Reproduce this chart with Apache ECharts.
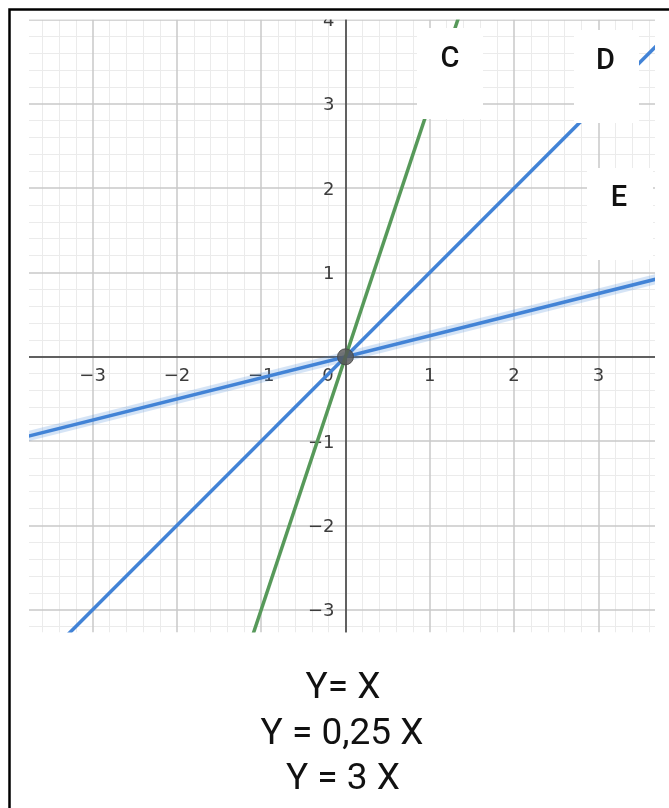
<!DOCTYPE html>
<html>
<head>
<meta charset="utf-8">
<script src="https://cdn.jsdelivr.net/npm/echarts@6/dist/echarts.min.js"></script>
<style>
html, body { margin: 0; padding: 0; background: #fff; }
#chart { width: 669px; height: 808px; }
</style>
</head>
<body>
<div id="chart"></div>
<script>
// Visible window of the coordinate plane
const xRange = [-3.755, 3.672];
const yRange = [-3.27, 4.0];

// Labelled integer ticks on each axis
const xTickLabels = [-3, -2, -1, 0, 1, 2, 3];
const yTickLabels = [-3, -2, -1, 1, 2, 3, 4];
const majorX = [-3, -2, -1, 0, 1, 2, 3];
const majorY = [-3, -2, -1, 0, 1, 2, 3, 4];
const minorStep = 0.2;

// Lines through the origin, each given by two points outside the window
const lineC = [[-1.5, -4.5], [1.5, 4.5]];        // Y = 3 X
const lineD = [[-4.5, -4.5], [4.5, 4.5]];        // Y = X
const lineE = [[-4.5, -1.125], [4.5, 1.125]];    // Y = 0,25 X
const originPoint = [[0, 0]];

const lineNames = ['C', 'D', 'E'];
const equations = ['Y= X', 'Y = 0,25 X', 'Y = 3 X'];

const BLUE = '#4283d6';
const GREEN = '#57995a';

// Plotting window in the page
const W = 669, H = 808;
const gridBox = { left: 29, right: 14, top: 19.5, bottom: 175.5 };
const plotW = W - gridBox.left - gridBox.right;
const plotH = H - gridBox.top - gridBox.bottom;
// distance from the window edges to the axes through the origin
const xAxisShift = (0 - yRange[0]) / (yRange[1] - yRange[0]) * plotH;
const yAxisShift = (0 - xRange[0]) / (xRange[1] - xRange[0]) * plotW;

// Grid line segments, spanning the whole window
function verticals(values) {
  return values.map(v => ({ coords: [[v, yRange[0]], [v, yRange[1]]] }));
}
function horizontals(values) {
  return values.map(v => ({ coords: [[xRange[0], v], [xRange[1], v]] }));
}
function minorValues(range) {
  const out = [];
  const k0 = Math.ceil(range[0] / minorStep - 1e-9);
  const k1 = Math.floor(range[1] / minorStep + 1e-9);
  for (let k = k0; k <= k1; k++) {
    if (k % 5 !== 0) out.push(+(k * minorStep).toFixed(4));
  }
  return out;
}
const minorGrid = verticals(minorValues(xRange)).concat(horizontals(minorValues(yRange)));
const majorGrid = verticals(majorX).concat(horizontals(majorY));

const minus = v => String(v).replace('-', '\u2212');

const chart = echarts.init(document.getElementById('chart'), null, { renderer: 'canvas' });

const tickText = { fontFamily: 'DejaVu Sans', fontSize: 18, color: '#3c3c3c' };

const plotRight = W - gridBox.right;
const plotBottom = H - gridBox.bottom;
const marginFill = { fill: '#fff' };

const option = {
  animation: false,
  backgroundColor: '#fff',
  grid: Object.assign({ containLabel: false }, gridBox),
  xAxis: {
    type: 'value',
    min: xRange[0],
    max: xRange[1],
    position: 'bottom',
    offset: -xAxisShift,
    z: 3,
    axisLine: { onZero: false, lineStyle: { color: '#3a3a3a', width: 1.5 } },
    axisTick: { show: false },
    splitLine: { show: false },
    axisLabel: Object.assign({
      customValues: xTickLabels,
      margin: 11,
      formatter: v => (v === 0 ? '{zero|0}' : '{n|' + minus(v) + '}'),
      rich: {
        n: tickText,
        zero: Object.assign({ padding: [0, 35, 0, 0] }, tickText)
      }
    }, tickText)
  },
  yAxis: {
    type: 'value',
    min: yRange[0],
    max: yRange[1],
    position: 'left',
    offset: -yAxisShift,
    z: 3,
    axisLine: { onZero: false, lineStyle: { color: '#3a3a3a', width: 1.5 } },
    axisTick: { show: false },
    splitLine: { show: false },
    axisLabel: Object.assign({
      customValues: yTickLabels,
      margin: 11,
      formatter: v => '{n|' + minus(v) + '}',
      rich: { n: Object.assign({ padding: [4, 0, 0, 0] }, tickText) }
    }, tickText)
  },
  series: [
    {
      name: 'minor grid',
      type: 'lines',
      coordinateSystem: 'cartesian2d',
      silent: true,
      z: 0,
      lineStyle: { color: '#ebebeb', width: 1, opacity: 1 },
      data: minorGrid
    },
    {
      name: 'major grid',
      type: 'lines',
      coordinateSystem: 'cartesian2d',
      silent: true,
      z: 1,
      lineStyle: { color: '#c9c9c9', width: 1.5, opacity: 1 },
      data: majorGrid
    },
    {
      name: 'E halo',
      type: 'line',
      data: lineE,
      showSymbol: false,
      silent: true,
      z: 4,
      lineStyle: { color: 'rgba(66,131,214,0.22)', width: 10 }
    },
    {
      name: lineNames[2],
      type: 'line',
      data: lineE,
      showSymbol: false,
      z: 5,
      lineStyle: { color: BLUE, width: 3.5 }
    },
    {
      name: lineNames[1],
      type: 'line',
      data: lineD,
      showSymbol: false,
      z: 5,
      lineStyle: { color: BLUE, width: 3.5 }
    },
    {
      name: lineNames[0],
      type: 'line',
      data: lineC,
      showSymbol: false,
      z: 5,
      lineStyle: { color: GREEN, width: 3.5 }
    },
    {
      name: 'origin',
      type: 'scatter',
      data: originPoint,
      symbol: 'circle',
      symbolSize: 16,
      z: 8,
      itemStyle: { color: '#555555', borderColor: '#444', borderWidth: 1 }
    }
  ],
  graphic: [
    // white margins round the plotting window
    { type: 'rect', z: 50, silent: true, shape: { x: 11, y: 10, width: 660, height: gridBox.top - 10 }, style: marginFill },
    { type: 'rect', z: 50, silent: true, shape: { x: 11, y: 10, width: gridBox.left - 11, height: H }, style: marginFill },
    { type: 'rect', z: 50, silent: true, shape: { x: plotRight, y: 10, width: gridBox.right + 2, height: H }, style: marginFill },
    { type: 'rect', z: 50, silent: true, shape: { x: 11, y: plotBottom, width: 660, height: gridBox.bottom }, style: marginFill },
    // name tags of the three lines
    { type: 'rect', z: 60, shape: { x: 417, y: 28, width: 66, height: 91 }, style: { fill: '#fff' } },
    { type: 'rect', z: 60, shape: { x: 574, y: 30, width: 65, height: 93 }, style: { fill: '#fff' } },
    { type: 'rect', z: 60, shape: { x: 587, y: 168, width: 66, height: 92 }, style: { fill: '#fff' } },
    { type: 'text', z: 61, style: { x: 450, y: 60, text: lineNames[0], font: '500 29px Roboto', fill: '#111', textAlign: 'center', textVerticalAlign: 'middle' } },
    { type: 'text', z: 61, style: { x: 605.5, y: 62, text: lineNames[1], font: '500 29px Roboto', fill: '#111', textAlign: 'center', textVerticalAlign: 'middle' } },
    { type: 'text', z: 61, style: { x: 619, y: 198.5, text: lineNames[2], font: '500 29px Roboto', fill: '#111', textAlign: 'center', textVerticalAlign: 'middle' } },
    // equations under the plane
    { type: 'text', z: 61, style: { x: 343, y: 689, text: equations[0], font: '400 37px Roboto', fill: '#111', textAlign: 'center', textVerticalAlign: 'middle' } },
    { type: 'text', z: 61, style: { x: 342, y: 735, text: equations[1], font: '400 37px Roboto', fill: '#111', textAlign: 'center', textVerticalAlign: 'middle' } },
    { type: 'text', z: 61, style: { x: 343, y: 780, text: equations[2], font: '400 37px Roboto', fill: '#111', textAlign: 'center', textVerticalAlign: 'middle' } },
    // frame
    { type: 'polyline', z: 70, silent: true, shape: { points: [[9.5, 820], [9.5, 9.5], [680, 9.5]] }, style: { stroke: '#000', lineWidth: 2.5, fill: null } }
  ]
};

chart.setOption(option);
</script>
</body>
</html>
